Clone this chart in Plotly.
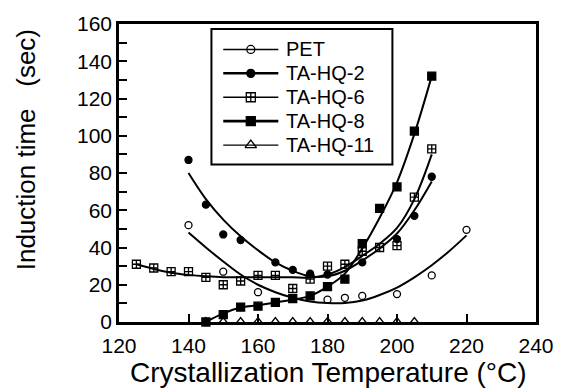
import plotly.graph_objects as go

# Measured induction times (s) vs crystallization temperature (°C)
pet_T = [140, 150, 160, 180, 185, 190, 200, 210, 220]
pet_t = [52, 27, 16, 12, 13, 14, 15, 25, 49.5]

hq2_T = [140, 145, 150, 155, 165, 170, 175, 180, 190, 200, 205, 210]
hq2_t = [87, 63, 47, 44, 32, 28, 26, 25.5, 32, 44.5, 57, 78]

hq6_T = [125, 130, 135, 140, 145, 150, 155, 160, 165, 170, 175, 180, 185, 190, 195, 200, 205, 210]
hq6_t = [31, 29, 27, 27, 24, 20, 22, 25, 25, 18, 23, 30, 31, 38, 40, 41, 67, 93]

hq8_T = [145, 150, 155, 160, 165, 170, 175, 180, 185, 190, 195, 200, 205, 210]
hq8_t = [0, 4, 8, 8.5, 10.5, 12.5, 14, 19, 23, 42, 61, 72.5, 102.5, 132]

hq11_T = [145, 150, 155, 160, 165, 170, 175, 180, 185, 190, 195, 200, 205]
hq11_t = [0, 0, 0, 0, 0, 0, 0, 0, 0, 0, 0, 0, 0]

# Smoothed trend curves (knots of the fitted lines)
pet_fit_T = [140, 145, 150, 155, 160, 165, 170, 175, 180, 185, 190, 195, 200, 205, 210, 215, 220]
pet_fit_t = [48, 40, 32.5, 25.5, 20, 16, 13, 11, 10.2, 10.2, 11.5, 14.5, 18.5, 24, 30.5, 38, 46.5]

hq2_fit_T = [140, 145, 150, 155, 160, 165, 170, 175, 180, 185, 190, 195, 200, 205, 210]
hq2_fit_t = [80, 66, 55, 46, 38.5, 32, 27.5, 24.5, 24.5, 27.5, 33, 39.5, 47.5, 60, 75.5]

hq6_fit_T = [125, 130, 135, 140, 145, 150, 155, 160, 165, 170, 175, 180, 185, 190, 195, 200, 205, 210]
hq6_fit_t = [31, 28.5, 26.5, 25.3, 24.5, 24, 24, 24, 24, 24, 23.8, 25.5, 29.5, 35.5, 42, 50.5, 66, 90]

hq8_fit_T = [145, 150, 155, 160, 165, 170, 175, 180, 185, 190, 195, 200, 205, 210]
hq8_fit_t = [0, 4.6, 7.8, 9, 10.5, 12, 14, 19, 26, 39.5, 56, 75, 101, 132]

FONT = "Liberation Sans, Arial, Helvetica, sans-serif"

# plot area in pixels
W, H = 566, 391
PL, PR, PT, PB = 119, 543, 21, 322


def paper_x(px):
    return (px - PL) / (PR - PL)


def paper_y(py):
    return (PB - py) / (PB - PT)


series = [
    dict(name="PET", T=pet_T, t=pet_t, fT=pet_fit_T, ft=pet_fit_t,
         symbol="circle-open", size=7, lw=1.5),
    dict(name="TA-HQ-2", T=hq2_T, t=hq2_t, fT=hq2_fit_T, ft=hq2_fit_t,
         symbol="circle", size=7, lw=2.5),
    dict(name="TA-HQ-6", T=hq6_T, t=hq6_t, fT=hq6_fit_T, ft=hq6_fit_t,
         symbol="square-cross-open", size=8, lw=1.5),
    dict(name="TA-HQ-8", T=hq8_T, t=hq8_t, fT=hq8_fit_T, ft=hq8_fit_t,
         symbol="square", size=8, lw=2.8),
    dict(name="TA-HQ-11", T=hq11_T, t=hq11_t, fT=None, ft=None,
         symbol="triangle-up-open", size=9, lw=1.3),
]

fig = go.Figure()

for s in series:
    if s["fT"] is not None:
        fig.add_trace(go.Scatter(
            x=s["fT"], y=s["ft"], mode="lines", showlegend=False,
            line=dict(color="black", width=2, shape="spline", smoothing=1.0),
            hoverinfo="skip", cliponaxis=False))

for s in series:
    fig.add_trace(go.Scatter(
        x=s["T"], y=s["t"], mode="markers", showlegend=False, name=s["name"],
        marker=dict(symbol=s["symbol"], size=s["size"], color="black",
                    line=dict(color="black", width=1.3)),
        cliponaxis=False))

# ---- boxed key: samples drawn in a pixel-space overlay (x2/y2) ----
LEG_L, LEG_R, LEG_T, LEG_B = 213, 397, 26, 163
ROW0, ROW_STEP = 46.7, 24.15
SAMPLE_X0, SAMPLE_X1, TEXT_X = 225, 281, 287

shapes = [dict(type="rect", xref="paper", yref="paper",
               x0=paper_x(LEG_L), x1=paper_x(LEG_R), y0=paper_y(LEG_B), y1=paper_y(LEG_T),
               line=dict(color="black", width=2), fillcolor="white", layer="below")]
annotations = []
for i, s in enumerate(series):
    ry = ROW0 + i * ROW_STEP
    shapes.append(dict(type="line", xref="paper", yref="paper",
                       x0=paper_x(SAMPLE_X0), x1=paper_x(SAMPLE_X1),
                       y0=paper_y(ry), y1=paper_y(ry),
                       line=dict(color="black", width=s["lw"]), layer="below"))
    annotations.append(dict(text=s["name"], xref="paper", yref="paper",
                            x=paper_x(TEXT_X), y=paper_y(ry),
                            xanchor="left", yanchor="middle", showarrow=False,
                            font=dict(size=20, family=FONT)))
    fig.add_trace(go.Scatter(
        x=[(SAMPLE_X0 + SAMPLE_X1) / 2], y=[ry], xaxis="x2", yaxis="y2",
        mode="markers", showlegend=False, hoverinfo="skip", cliponaxis=False,
        marker=dict(symbol=s["symbol"], size=s["size"] + 1, color="black",
                    line=dict(color="black", width=1.3))))

annotations += [
    dict(text="Crystallization Temperature (°C)", xref="paper", yref="paper",
         x=paper_x(332), y=paper_y(355), xanchor="center", yanchor="top",
         showarrow=False, font=dict(size=28, family=FONT)),
    dict(text="Induction time\u00a0\u00a0\u00a0(sec)", xref="paper", yref="paper",
         x=paper_x(24), y=paper_y(148), xanchor="center", yanchor="middle",
         textangle=-90, showarrow=False, font=dict(size=26, family=FONT)),
]

fig.update_layout(
    width=W, height=H,
    margin=dict(l=PL, r=W - PR, t=PT, b=H - PB),
    paper_bgcolor="white", plot_bgcolor="white",
    font=dict(family=FONT, color="black"),
    showlegend=False,
    shapes=shapes,
    annotations=annotations,
    xaxis=dict(
        range=[120, 240], dtick=20, tick0=120,
        showline=True, linecolor="black", linewidth=2.5, mirror=True,
        ticks="inside", ticklen=8, tickwidth=2, tickcolor="black",
        showgrid=False, zeroline=False, ticklabelstandoff=3,
        tickfont=dict(size=21, family=FONT),
    ),
    yaxis=dict(
        range=[0, 160], dtick=20, tick0=0,
        showline=True, linecolor="black", linewidth=2.5, mirror=True,
        ticks="inside", ticklen=8, tickwidth=2, tickcolor="black",
        minor=dict(dtick=10, ticks="inside", ticklen=8, tickwidth=2, tickcolor="black"),
        showgrid=False, zeroline=False,
        tickfont=dict(size=21, family=FONT),
    ),
    xaxis2=dict(overlaying="x", range=[PL, PR], visible=False, anchor="y2"),
    yaxis2=dict(overlaying="y", range=[PB, PT], visible=False, anchor="x2"),
)

fig.write_html("out.html")
